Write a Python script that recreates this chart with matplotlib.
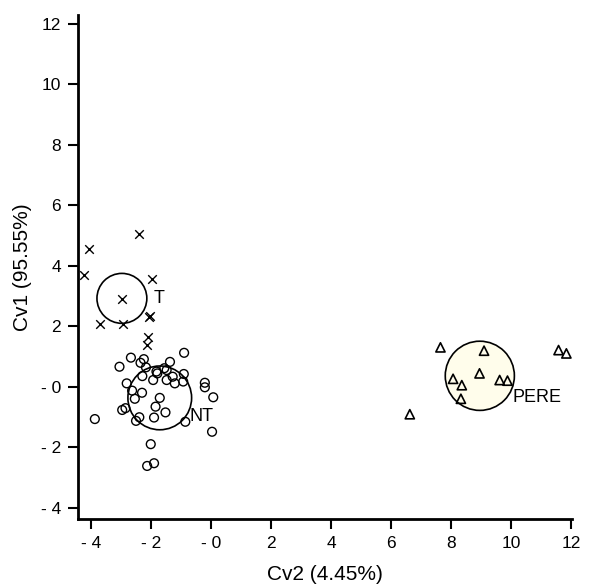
import matplotlib
matplotlib.use("Agg")
import matplotlib.pyplot as plt
from matplotlib.patches import Ellipse

plt.rcParams['font.family'] = ['Liberation Sans', 'DejaVu Sans']

# T group (x markers)
t_x = [-2.39, -4.06, -4.22, -1.96, -2.96, -3.69, -2.93, -2.06, -2.03, -2.09, -2.13]
t_y = [5.06, 4.56, 3.70, 3.57, 2.91, 2.08, 2.08, 2.31, 2.35, 1.65, 1.39]

# NT group (circle markers)
nt_x = [-0.89, -2.66, -3.04, -2.23, -2.34, -2.16, -1.36, -1.81, -1.55, -2.28,
        -1.92, -1.47, -1.27, -1.20, -0.90, -0.92, -0.20, -0.20, 0.08, -2.80,
        -2.62, -2.29, -2.53, -1.70, -1.84, -2.84, -2.95, -1.51, -3.86, -2.38,
        -2.49, -1.89, -0.85, 0.04, -2.00, -2.12, -1.89, -1.78, -1.47]
nt_y = [1.13, 0.97, 0.67, 0.92, 0.80, 0.65, 0.83, 0.51, 0.62, 0.36,
        0.23, 0.23, 0.34, 0.12, 0.43, 0.18, 0.14, -0.01, -0.34, 0.12,
        -0.12, -0.19, -0.39, -0.36, -0.65, -0.70, -0.76, -0.84, -1.06, -1.00,
        -1.12, -1.01, -1.15, -1.48, -1.89, -2.61, -2.52, 0.45, 0.56]

# PERE group (triangle markers)
pere_x = [7.64, 9.09, 11.57, 11.83, 8.06, 8.35, 8.94, 9.61, 9.87, 8.32, 6.62]
pere_y = [1.31, 1.20, 1.22, 1.11, 0.27, 0.06, 0.45, 0.23, 0.21, -0.39, -0.90]

# group centroids and circle radii
groups = ["T", "NT", "PERE"]
cent_x = [-2.96, -1.70, 8.95]
cent_y = [2.93, -0.36, 0.37]
radii = [0.83, 1.06, 1.15]
fills = ["none", "none", "#FFFDEB"]
label_x = [-1.90, -0.72, 10.04]
label_y = [2.93, -0.98, -0.36]

xticks = [-4, -2, 0, 2, 4, 6, 8, 10, 12]
xticklabels = ["- 4", "- 2", "- 0", "2", "4", "6", "8", "10", "12"]
yticks = [-4, -2, 0, 2, 4, 6, 8, 10, 12]
yticklabels = ["- 4", "- 2", "- 0", "2", "4", "6", "8", "10", "12"]

fig = plt.figure(figsize=(5.91, 5.85), dpi=100)
ax = fig.add_axes([0.1315, 0.1125, 0.8365, 0.862])
ax.set_xlim(-4.43, 12.02)
ax.set_ylim(-4.37, 12.30)

# pixel-round circles: scale ratio
sx = 30.08
sy = 30.25
for cx, cy, r, fc in zip(cent_x, cent_y, radii, fills):
    e = Ellipse((cx, cy), width=2 * r, height=2 * r * sx / sy,
                facecolor=fc, edgecolor='black', linewidth=1.2, zorder=2)
    ax.add_patch(e)

ax.scatter(t_x, t_y, marker='x', s=38, c='black', linewidths=1.0, zorder=3)
ax.scatter(nt_x, nt_y, marker='o', s=40, facecolors='none', edgecolors='black',
           linewidths=1.0, zorder=3)
ax.scatter(pere_x, pere_y, marker='^', s=44, facecolors='none', edgecolors='black',
           linewidths=1.2, zorder=3)

for g, lx, ly in zip(groups, label_x, label_y):
    ax.text(lx, ly, g, fontsize=13, ha='left', va='center', zorder=4)

ax.set_xticks(xticks)
ax.set_xticklabels(xticklabels)
ax.set_yticks(yticks)
ax.set_yticklabels(yticklabels)
ax.tick_params(direction='out', length=7, width=1.5, labelsize=12.5, pad=5)

for s in ['top', 'right']:
    ax.spines[s].set_visible(False)
for s in ['left', 'bottom']:
    ax.spines[s].set_linewidth(2)

ax.set_xlabel("Cv2 (4.45%)", fontsize=15, labelpad=10)
ax.set_ylabel("Cv1 (95.55%)", fontsize=15, labelpad=6)

fig.savefig("out.png", dpi=100)
